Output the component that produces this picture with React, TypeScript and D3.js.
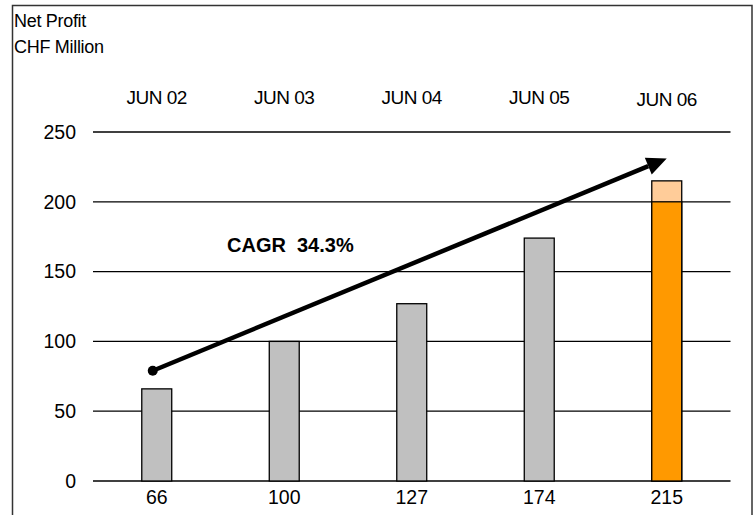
import React from "react";
import * as d3 from "d3";

const titleLines = ["Net Profit", "CHF Million"];
const categories = ["JUN 02", "JUN 03", "JUN 04", "JUN 05", "JUN 06"];
const values = [66, 100, 127, 174, 215];
const highlightBase = [0, 0, 0, 0, 200];
const yTicks = [0, 50, 100, 150, 200, 250];
const cagrLabel = "CAGR  34.3%";
const arrowFrom = { cat: "JUN 02", value: 79 };
const arrowTo = { cat: "JUN 06", value: 231 };

const W = 753;
const H = 515;
const FONT = "'Liberation Sans', Arial, sans-serif";

export default function App() {
  const x = d3.scaleBand<string>().domain(categories).range([93, 730.5]).paddingInner(0.765).paddingOuter(0.3825);
  const y = d3.scaleLinear().domain([0, 250]).range([481, 132]);
  const bw = x.bandwidth();
  const cx = (c: string) => (x(c) as number) + bw / 2;

  const x1 = cx(arrowFrom.cat) - 4;
  const y1 = y(arrowFrom.value);
  const x2 = cx(arrowTo.cat);
  const y2 = y(arrowTo.value);
  const ang = Math.atan2(y2 - y1, x2 - x1);
  const headLen = 20;
  const headW = 9;
  const bx = x2 - headLen * Math.cos(ang);
  const by = y2 - headLen * Math.sin(ang);
  const px = -Math.sin(ang);
  const py = Math.cos(ang);
  const head = `M${x2},${y2} L${bx + px * headW},${by + py * headW} L${bx - px * headW},${by - py * headW} Z`;

  return (
    <svg width={W} height={H} style={{ position: "absolute", left: 0, top: 0, background: "#fff" }} fontFamily={FONT}>
      <rect x={12.5} y={5.5} width={739.5} height={520} fill="none" stroke="#333" strokeWidth={1.5} />
      {titleLines.map((t, i) => (
        <text key={t} x={14} y={27 + i * 26} fontSize={18} letterSpacing={-0.3} fill="#000">{t}</text>
      ))}
      {yTicks.map((t) => (
        <g key={t}>
          <line x1={93} x2={730.5} y1={y(t)} y2={y(t)} stroke="#000" strokeWidth={1.3} />
          <text x={76} y={y(t)} dy="0.35em" textAnchor="end" fontSize={19.5}>{t}</text>
        </g>
      ))}
      {categories.map((c, i) => (
        <g key={c}>
          <rect x={x(c)} y={y(values[i])} width={bw} height={y(0) - y(values[i])}
            fill={highlightBase[i] > 0 ? "#ffcc99" : "#c0c0c0"} stroke="#000" strokeWidth={1.3} />
          {highlightBase[i] > 0 && (
            <rect x={x(c)} y={y(highlightBase[i])} width={bw} height={y(0) - y(highlightBase[i])}
              fill="#ff9900" stroke="#000" strokeWidth={1.3} />
          )}
          <text x={cx(c)} y={i === 4 ? 106 : 104} textAnchor="middle" fontSize={19} letterSpacing={-0.5}>{c}</text>
          <text x={cx(c)} y={504} textAnchor="middle" fontSize={19.5}>{values[i]}</text>
        </g>
      ))}
      <line x1={x1} y1={y1} x2={bx} y2={by} stroke="#000" strokeWidth={4.5} />
      <circle cx={x1} cy={y1} r={5} fill="#000" />
      <path d={head} fill="#000" />
      <text x={227} y={252} fontSize={20} fontWeight="bold" style={{ whiteSpace: "pre" }}>{cagrLabel}</text>
    </svg>
  );
}
